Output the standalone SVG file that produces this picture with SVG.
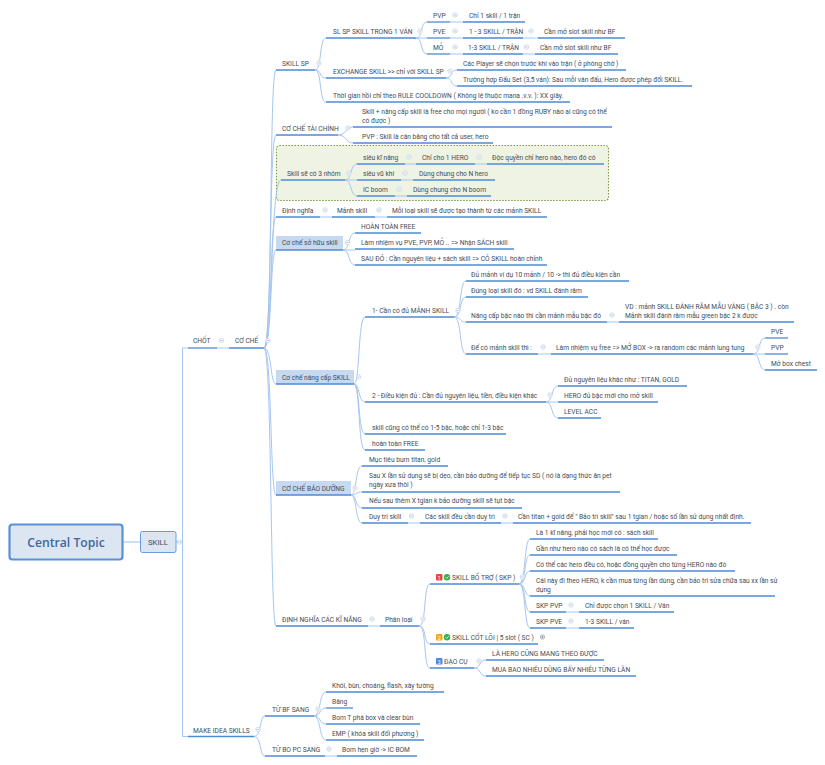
<svg xmlns="http://www.w3.org/2000/svg" width="825" height="765" viewBox="0 0 825 765">
<style>
text{font-family:Roboto,"Noto Sans","DejaVu Sans",sans-serif;fill:#444c58}
.t{font-size:6.65px}
.u{fill:none;stroke:#4f8ad6;stroke-width:1.3}
.c{fill:none;stroke:#a6c6f0;stroke-width:1}
.h{fill:#c6d9f1}
.b{fill:#fff;stroke:#c3d2e8;stroke-width:.8}
.bl{stroke:#aabcd8;stroke-width:.8;fill:none}
</style>
<defs>
<g id="m"><circle class="b" r="2.2"/><path class="bl" d="M-1.3 0H1.3"/></g>
<g id="p"><circle class="b" r="2.2" style="stroke:#9aa6b8"/><path class="bl" style="stroke:#7f8b9c" d="M-1.3 0H1.3M0-1.3V1.3"/></g>
</defs>
<rect width="825" height="765" fill="#fff"/>
<g id="nhom-bg"><rect x="276.500" y="145.500" width="332" height="55" rx="3" fill="#eef3e4" stroke="#7d9a3c" stroke-width="1.100" stroke-dasharray="1.500 1.500"/></g>
<g id="connectors">
<path class="c" style="stroke-width:1.500;stroke:#b9d3f5" d="M123 542H140"/>
<path class="c" d="M176 542H182.500M182.500 348V736.500M182.500 348H188M182.500 736.500H188"/>
<path class="c" d="M217 348H229"/>
<path class="c" d="M264 348C273 348 269 70 276 70M264 348C272 348 269 135 276 135M264 348C273 348 270 180 281 180M264 348C272 348 270 217 276 217M264 348C272 348 270 250 276 250M264 348C272 348 270 384 276 384M264 348C272 348 270 495 276 495M264 348C272 348 270 626 276 626"/>
<path class="c" d="M315 70C322 70 319 38 326 38M315 70C322 70 319 78 326 78M315 70C322 70 319 102 326 102"/>
<path class="c" d="M416 38C423 38 420 22 427 22M416 38H427M416 38C423 38 420 54 427 54"/>
<path class="c" d="M450 22H463M450 38H463M450 54H463M523 38H538M523 54H535"/>
<path class="c" d="M446 78C453 78 450 70 457 70M446 78C453 78 450 86 457 86"/>
<path class="c" d="M338 135C347 135 345 127 353 127M338 135C347 135 345 143 353 143"/>
<path class="c" d="M345 180C352 180 350 164 357 164M345 180H357M345 180C352 180 350 196 357 196"/>
<path class="c" d="M405 164H416M475 164H487M401 180H413M395 196H407"/>
<path class="c" d="M320 217H332M375 217H387"/>
<path class="c" d="M343 250C350 250 348 233 355 233M343 250H355M343 250C350 250 348 265 355 265"/>
<path class="c" d="M354 384C360 384 358 317 365 317M354 384C360 384 358 402 365 402M354 384C360 384 358 434 365 434M354 384C360 384 358 450 365 450"/>
<path class="c" d="M454 317C462 317 459 281 466 281M454 317C462 317 459 297 466 297M454 317C462 317 459 322 466 322M454 317C462 317 459 354 466 354"/>
<path class="c" d="M607 322H619M538 354H551"/>
<path class="c" d="M753 354C761 354 758 338 765 338M753 354H765M753 354C761 354 758 370 765 370"/>
<path class="c" d="M546 402C553 402 551 386 558 386M546 402H558M546 402C553 402 551 418 558 418"/>
<path class="c" d="M351 495C357 495 355 466 362 466M351 495C357 495 355 492 362 492M351 495C357 495 355 508 362 508M351 495C357 495 355 523 362 523"/>
<path class="c" d="M408 523H420M501 523H513"/>
<path class="c" d="M368 626H380"/>
<path class="c" d="M419 626C427 626 423 584 430 584M419 626C427 626 423 644 430 644M419 626C427 626 423 668 430 668"/>
<path class="c" d="M519 584C526 584 524 539 530 539M519 584C526 584 524 555 530 555M519 584C526 584 524 571 530 571M519 584C526 584 524 596 530 596M519 584C526 584 524 612 530 612M519 584C526 584 524 628 530 628"/>
<path class="c" d="M566 612H579M566 628H579"/>
<path class="c" d="M474 668C481 668 479 660 486 660M474 668C481 668 479 676 486 676"/>
<path class="c" d="M254 736.500C262 736.500 259 716 265 716M254 736.500C262 736.500 259 756 265 756"/>
<path class="c" d="M314 716C321 716 319 692 326 692M314 716C321 716 319 708 326 708M314 716C321 716 319 724 326 724M314 716C321 716 319 740 326 740"/>
<path class="c" d="M325 756H337"/>
</g>
<g id="central"><rect x="9.500" y="524.500" width="113" height="35" rx="3" fill="#dce6f2" stroke="#5b90d8" stroke-width="2.200"/><text x="66" y="546.500" text-anchor="middle" style="font-family:'Open Sans',sans-serif;font-size:12.200px;font-weight:600;fill:#41669b">Central Topic</text></g>
<g id="skill"><rect x="140.500" y="531.500" width="35.500" height="21" rx="2" fill="#dce6f2" stroke="#6a9bdc" stroke-width="1"/><text x="158" y="545" text-anchor="middle" style="font-size:7.800px">SKILL</text><use href="#m" x="179.500" y="542"/></g>
<g id="chot"><text class="t" x="193" y="343">CHỐT</text><path class="u" d="M188 348H217"/><use href="#m" x="221.500" y="340.500"/></g>
<g id="co-che"><text class="t" x="235" y="343">CƠ CHẾ</text><path class="u" d="M229 348H264"/><use href="#m" x="268" y="340.500"/></g>
<g id="skill-sp"><text class="t" x="282" y="65.500">SKILL SP</text><path class="u" d="M276 70H315"/><use href="#m" x="319" y="63"/></g>
<g id="sl-sp"><text class="t" x="333" y="33.500">SL SP SKILL TRONG 1 VÁN</text><path class="u" d="M326 38H416"/><use href="#m" x="420" y="31"/></g>
<g id="pvp1"><text class="t" x="433" y="17.500">PVP</text><path class="u" d="M427 22H450"/><use href="#m" x="455" y="15"/></g>
<g id="pvp1a"><text class="t" x="469" y="17.500">Chỉ 1 skill / 1 trận</text><path class="u" d="M463 22H525"/></g>
<g id="pve1"><text class="t" x="433" y="33.500">PVE</text><path class="u" d="M427 38H450"/><use href="#m" x="455" y="31"/></g>
<g id="pve1a"><text class="t" x="469" y="33.500">1 - 3 SKILL / TRẬN</text><path class="u" d="M463 38H523"/><use href="#m" x="531" y="31"/></g>
<g id="pve1b"><text class="t" x="544" y="33.500">Cần mở slot skill như BF</text><path class="u" d="M538 38H625"/></g>
<g id="mo1"><text class="t" x="433" y="49.500">MỎ</text><path class="u" d="M427 54H450"/><use href="#m" x="455" y="47"/></g>
<g id="mo1a"><text class="t" x="468" y="49.500">1-3 SKILL / TRẬN</text><path class="u" d="M463 54H523"/><use href="#m" x="526.500" y="47"/></g>
<g id="mo1b"><text class="t" x="540" y="49.500">Cần mở slot skill như BF</text><path class="u" d="M535 54H618"/></g>
<g id="exchange"><text class="t" x="333" y="73.500">EXCHANGE SKILL &gt;&gt; chỉ với SKILL SP</text><path class="u" d="M326 78H446"/><use href="#m" x="450" y="71"/></g>
<g id="ex-a"><text class="t" x="463" y="65.500">Các Player sẽ chọn trước khi vào trận ( ở phòng chờ )</text><path class="u" d="M457 70H626"/></g>
<g id="ex-b"><text class="t" x="463" y="81.500">Trường hợp Đấu Set (3,5 ván): Sau mỗi ván đấu, Hero được phép đổi SKILL.</text><path class="u" d="M457 86H692"/></g>
<g id="thoi-gian"><text class="t" x="333" y="97.500">Thời gian hồi chỉ theo RULE COOLDOWN ( Không lệ thuộc mana .v.v. ): XX giây.</text><path class="u" d="M326 102H570"/></g>
<g id="tai-chinh"><text class="t" x="282" y="130.500">CƠ CHẾ TÀI CHÍNH</text><path class="u" d="M276 135H338"/><use href="#m" x="348" y="128"/></g>
<g id="tc-a"><text class="t" x="362" y="113.500">Skill + nâng cấp skill  là free cho mọi người ( ko cần 1 đồng RUBY nào ai cũng có thể</text><text class="t" x="362" y="122.500">có được )</text><path class="u" d="M353 127H612"/></g>
<g id="tc-b"><text class="t" x="362" y="138.500">PVP : Skill là cân bằng cho tất cả user, hero</text><path class="u" d="M353 143H493"/></g>
<g id="nhom"><text class="t" x="287" y="175.500">Skill sẽ có 3 nhóm</text><path class="u" d="M281 180H345"/><use href="#m" x="349" y="173"/></g>
<g id="sieu-ki"><text class="t" x="363" y="159.500">siêu kĩ năng</text><path class="u" d="M357 164H405"/><use href="#m" x="409" y="157"/></g>
<g id="sieu-ki-a"><text class="t" x="422" y="159.500">Chỉ cho 1 HERO</text><path class="u" d="M416 164H475"/><use href="#m" x="479" y="157"/></g>
<g id="sieu-ki-b"><text class="t" x="492" y="159.500">Độc quyền chỉ hero nào, hero đó có</text><path class="u" d="M487 164H604"/></g>
<g id="sieu-vu"><text class="t" x="363" y="175.500">siêu vũ khí</text><path class="u" d="M357 180H401"/><use href="#m" x="405" y="173"/></g>
<g id="sieu-vu-a"><text class="t" x="419" y="175.500">Dùng chung cho N hero</text><path class="u" d="M413 180H495"/></g>
<g id="ic"><text class="t" x="363" y="191.500">IC boom</text><path class="u" d="M357 196H395"/><use href="#m" x="399" y="189"/></g>
<g id="ic-a"><text class="t" x="413" y="191.500">Dùng chung cho N boom</text><path class="u" d="M407 196H491"/></g>
<g id="dinh-nghia"><text class="t" x="282" y="212.500">Định nghĩa</text><path class="u" d="M276 217H320"/><use href="#m" x="325" y="210"/></g>
<g id="manh"><text class="t" x="337" y="212.500">Mảnh skill</text><path class="u" d="M332 217H375"/><use href="#m" x="379" y="210"/></g>
<g id="moi-loai"><text class="t" x="392" y="212.500">Mỗi loại skill sẽ được tạo thành từ các mảnh SKILL</text><path class="u" d="M387 217H547"/></g>
<g id="so-huu"><rect class="h" x="276" y="236" width="67" height="14"/><text class="t" x="282" y="245">Cơ chế sở hữu skill</text><path class="u" d="M276 250H343"/><use href="#m" x="347.500" y="242.500"/></g>
<g id="sh-a"><text class="t" x="361" y="228.500">HOÀN TOÀN FREE</text><path class="u" d="M355 233H421"/></g>
<g id="sh-b"><text class="t" x="361" y="244.500">Làm nhiệm vụ PVE, PVP, MỎ .. =&gt; Nhận SÁCH skill</text><path class="u" d="M355 249H514"/></g>
<g id="sh-c"><text class="t" x="361" y="260.500">SAU ĐÓ : Cần nguyên liệu + sách skill =&gt; CÓ SKILL hoàn chỉnh</text><path class="u" d="M355 265H547"/></g>
<g id="nang-cap"><rect class="h" x="276" y="370" width="78" height="14"/><text class="t" x="282" y="379.500">Cơ chế nâng cấp SKILL</text><path class="u" d="M276 384H354"/><use href="#m" x="358.500" y="377"/></g>
<g id="nc1"><text class="t" x="372" y="313">1- Cần có đủ MẢNH SKILL</text><path class="u" d="M365 317H454"/><use href="#m" x="458" y="310.500"/></g>
<g id="nc1a"><text class="t" x="471" y="276.500">Đủ mảnh ví dụ  10 mảnh / 10 -&gt; thì đủ điều kiện cần</text><path class="u" d="M466 281H629"/></g>
<g id="nc1b"><text class="t" x="471" y="292.500">Đúng loại skill đó : vd SKILL đánh rắm</text><path class="u" d="M466 297H588"/></g>
<g id="nc1c"><text class="t" x="471" y="317.500">Nâng cấp bậc nào thì cần mảnh mẫu bậc đó</text><path class="u" d="M466 322H607"/><use href="#m" x="612" y="315"/></g>
<g id="nc1d"><text class="t" x="625" y="308.500">VD : mảnh SKILL ĐÁNH RẮM MẪU VÀNG ( BẬC 3 ) . còn</text><text class="t" x="625" y="317.500">Mảnh skill đánh rắm mẫu green bậc 2 k được</text><path class="u" d="M619 322H794"/></g>
<g id="nc1e"><text class="t" x="471" y="349.500">Để có mảnh skill thì :</text><path class="u" d="M466 354H538"/><use href="#m" x="543" y="347"/></g>
<g id="nc1f"><text class="t" x="556" y="349.500">Làm nhiệm vụ free =&gt; MỞ BOX -&gt; ra random các mảnh lung tung</text><path class="u" d="M551 354H753"/><use href="#m" x="758" y="347"/></g>
<g id="nc-pve"><text class="t" x="771" y="333.500">PVE</text><path class="u" d="M765 338H788"/></g>
<g id="nc-pvp"><text class="t" x="771" y="349.500">PVP</text><path class="u" d="M765 354H788"/></g>
<g id="nc-box"><text class="t" x="771" y="365.500">Mở box chest</text><path class="u" d="M765 370H817"/></g>
<g id="nc2"><text class="t" x="372" y="397.500">2 - Điều kiện đủ : Cần đủ nguyên liệu, tiền, điều kiện khác</text><path class="u" d="M365 402H546"/><use href="#m" x="550" y="395"/></g>
<g id="nc2a"><text class="t" x="564" y="381.500">Đủ nguyên liệu khác như : TITAN, GOLD</text><path class="u" d="M558 386H687"/></g>
<g id="nc2b"><text class="t" x="564" y="397.500">HERO đủ bậc mới cho mở skill</text><path class="u" d="M558 402H658"/></g>
<g id="nc2c"><text class="t" x="564" y="413.500">LEVEL ACC</text><path class="u" d="M558 418H601"/></g>
<g id="nc3"><text class="t" x="372" y="429.500">skill cũng có thể có 1-5 bậc, hoặc chỉ 1-3 bậc</text><path class="u" d="M365 434H506"/></g>
<g id="nc4"><text class="t" x="372" y="445.500">hoàn toàn FREE</text><path class="u" d="M365 450H425"/></g>
<g id="bao-duong"><rect class="h" x="276" y="481" width="75" height="14"/><text class="t" x="282" y="490.500">CƠ CHẾ BẢO DƯỠNG</text><path class="u" d="M276 495H351"/><use href="#m" x="355" y="488"/></g>
<g id="bd1"><text class="t" x="369" y="461.500">Mục tiêu burn titan, gold</text><path class="u" d="M362 466H448"/></g>
<g id="bd2"><text class="t" x="369" y="477.500">Sau X lần sử dụng sẽ bị dẹo, cần bảo dưỡng để tiếp tục SD ( nó là dạng thức ăn pet</text><text class="t" x="369" y="486.500">ngày xưa thôi )</text><path class="u" d="M362 492H620"/></g>
<g id="bd3"><text class="t" x="369" y="502.500">Nếu sau thêm X tgian k bảo dưỡng skill sẽ tụt bậc</text><path class="u" d="M362 508H522"/></g>
<g id="bd4"><text class="t" x="369" y="518.500">Duy trì skill</text><path class="u" d="M362 523H408"/><use href="#m" x="411.500" y="516"/></g>
<g id="bd4a"><text class="t" x="425" y="518.500">Các skill đều cần duy trì</text><path class="u" d="M420 523H501"/><use href="#m" x="505" y="516"/></g>
<g id="bd4b"><text class="t" x="518" y="518.500">Cần titan + gold để " Bảo trì skill" sau 1 tgian / hoặc số lần sử dụng nhất định.</text><path class="u" d="M513 523H751"/></g>
<g id="dn-kn"><text class="t" x="282" y="621.500">ĐỊNH NGHĨA CÁC KĨ NĂNG</text><path class="u" d="M276 626H368"/><use href="#m" x="372" y="619"/></g>
<g id="phan-loai"><text class="t" x="385" y="621.500">Phân loại</text><path class="u" d="M380 626H419"/><use href="#m" x="423" y="619"/></g>
<g id="skp"><rect x="436" y="574" width="6.500" height="6.500" rx="1" fill="#e8483f"/><text x="439.200" y="579.500" text-anchor="middle" style="font-size:5px;fill:#fff">1</text><circle cx="447" cy="577.200" r="3.200" fill="#35b24a"/><path d="M445.500 577.200l1.200 1.200 2-2.200" fill="none" stroke="#fff" stroke-width=".8"/><text class="t" x="452" y="579.500">SKILL BỔ TRỢ ( SKP )</text><path class="u" d="M430 584H519"/><use href="#m" x="522.500" y="577"/></g>
<g id="skp1"><text class="t" x="536" y="534.500">Là 1 kĩ năng, phải học mới có : sách skill</text><path class="u" d="M530 539H658"/></g>
<g id="skp2"><text class="t" x="536" y="550.500">Gần như hero nào có sách là có thể học được</text><path class="u" d="M530 555H677"/></g>
<g id="skp3"><text class="t" x="536" y="566.500">Có thể các hero đều có, hoặc đồng quyền cho từng HERO nào đó</text><path class="u" d="M530 571H735"/></g>
<g id="skp4"><text class="t" x="536" y="582.500">Cái này đi theo HERO, k cần mua từng lần dùng, cần bảo trì sửa chữa sau xx lần sử</text><text class="t" x="536" y="591.500">dụng</text><path class="u" d="M530 596H775"/></g>
<g id="skp-pvp"><text class="t" x="536" y="607.500">SKP PVP</text><path class="u" d="M530 612H566"/><use href="#m" x="571" y="605"/></g>
<g id="skp-pvp-a"><text class="t" x="585" y="607.500">Chỉ được chọn 1 SKILL / Ván</text><path class="u" d="M579 612H674"/></g>
<g id="skp-pve"><text class="t" x="536" y="623.500">SKP PVE</text><path class="u" d="M530 628H566"/><use href="#m" x="571" y="621"/></g>
<g id="skp-pve-a"><text class="t" x="585" y="623.500">1-3 SKILL / ván</text><path class="u" d="M579 628H634"/></g>
<g id="sc"><rect x="436" y="634" width="6.500" height="6.500" rx="1" fill="#f5a623"/><text x="439.200" y="639.500" text-anchor="middle" style="font-size:5px;fill:#fff">2</text><circle cx="447" cy="637.200" r="3.200" fill="#35b24a"/><path d="M445.500 637.200l1.200 1.200 2-2.200" fill="none" stroke="#fff" stroke-width=".8"/><text class="t" x="452" y="639.500">SKILL CỐT LÕI  | 5 slot ( SC )</text><path class="u" d="M430 644H538"/><use href="#p" x="542.500" y="637"/></g>
<g id="dao-cu"><rect x="436" y="658" width="6.500" height="6.500" rx="1" fill="#4a8ae8"/><text x="439.200" y="663.500" text-anchor="middle" style="font-size:5px;fill:#fff">3</text><text class="t" x="444" y="663.500">ĐẠO CỤ</text><path class="u" d="M430 668H474"/><use href="#m" x="479" y="661"/></g>
<g id="dc1"><text class="t" x="492" y="655.500">LÀ HERO CŨNG MANG THEO ĐƯỢC</text><path class="u" d="M486 660H604"/></g>
<g id="dc2"><text class="t" x="492" y="671.500">MUA BAO NHIÊU DÙNG BẤY NHIÊU TỪNG LẦN</text><path class="u" d="M486 676H636"/></g>
<g id="make"><text class="t" x="193" y="732.500">MAKE IDEA SKILLS</text><path class="u" d="M188 736.500H254"/><use href="#m" x="258" y="729.500"/></g>
<g id="bf"><text class="t" x="272" y="711.500">TỪ BF SANG</text><path class="u" d="M265 716H314"/><use href="#m" x="318" y="709"/></g>
<g id="bf1"><text class="t" x="332" y="687.500">Khói, bùn, choáng, flash, xây tường</text><path class="u" d="M326 692H444"/></g>
<g id="bf2"><text class="t" x="332" y="703.500">Băng</text><path class="u" d="M326 708H353"/></g>
<g id="bf3"><text class="t" x="332" y="719.500">Bom T phá box và clear bùn</text><path class="u" d="M326 724H420"/></g>
<g id="bf4"><text class="t" x="332" y="735.500">EMP ( khóa skill đối phương )</text><path class="u" d="M326 740H424"/></g>
<g id="bo"><text class="t" x="272" y="751.500">TỪ BO PC SANG</text><path class="u" d="M265 756H325"/><use href="#m" x="329" y="749"/></g>
<g id="bo1"><text class="t" x="342" y="751.500">Bom hẹn giờ -&gt; IC BOM</text><path class="u" d="M337 756H417"/></g>
</svg>
